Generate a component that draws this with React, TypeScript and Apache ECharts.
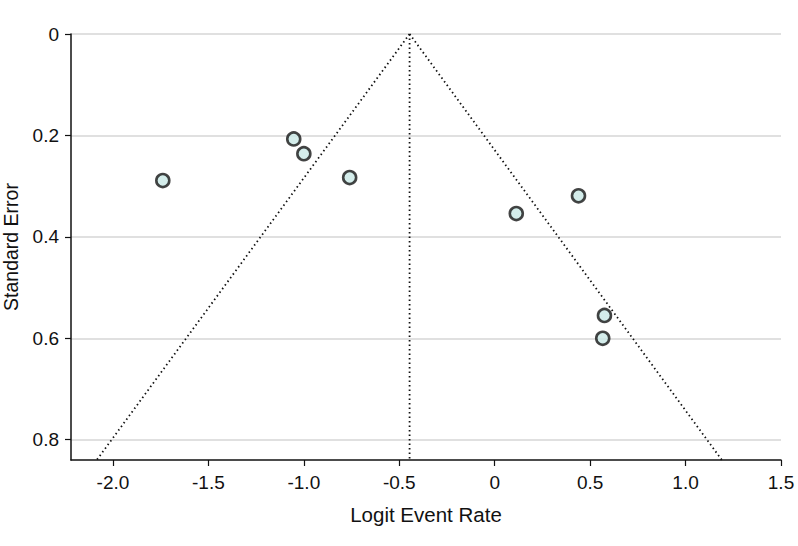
import React, { useEffect, useRef } from "react";
import * as echarts from "echarts";

// Study points: [logit event rate, standard error]
const logitRates = [-1.739, -1.053, -1.0, -0.76, 0.113, 0.439, 0.575, 0.566];
const standardErrors = [0.289, 0.207, 0.236, 0.283, 0.354, 0.319, 0.555, 0.6];

// Pooled estimate and funnel boundaries
const funnelLeft = [[-0.446, 0], [-2.085, 0.84]];
const funnelRight = [[-0.446, 0], [1.19, 0.84]];
const pooledLine = [[-0.446, 0], [-0.446, 0.84]];

const xTicks = [-2.0, -1.5, -1.0, -0.5, 0, 0.5, 1.0, 1.5];
const yTicks = [0, 0.2, 0.4, 0.6, 0.8];

const fmt = (v: number) => (Math.abs(v) < 1e-9 ? "0" : v.toFixed(1));

export default function App() {
  const ref = useRef<HTMLDivElement>(null);
  useEffect(() => {
    document.body.style.margin = "0";
    if (!ref.current) return;
    const chart = echarts.init(ref.current, undefined, { renderer: "svg" });
    const font = "'Liberation Sans', Arial, sans-serif";
    const dotted = { color: "#111", width: 1.8, type: [1.5, 3] as any };
    chart.setOption({
      animation: false,
      backgroundColor: "#fff",
      grid: { left: 71, top: 34, right: 17, bottom: 86, containLabel: false, outerBoundsMode: "none" },
      xAxis: {
        type: "value",
        min: -2.22,
        max: 1.5,
        name: "Logit Event Rate",
        nameLocation: "middle",
        nameGap: 44,
        nameTextStyle: { fontFamily: font, fontSize: 20.5, color: "#111" },
        axisLine: { show: true, onZero: false, lineStyle: { color: "#111", width: 1.5 } },
        axisTick: { show: true, length: 6, lineStyle: { color: "#111", width: 1.2 }, customValues: xTicks },
        axisLabel: {
          customValues: xTicks,
          formatter: (v: number) => fmt(v),
          fontFamily: font,
          fontSize: 19,
          color: "#111",
          margin: 13,
        },
        splitLine: { show: false },
      },
      yAxis: {
        type: "value",
        inverse: true,
        min: 0,
        max: 0.84,
        name: "Standard Error",
        nameLocation: "middle",
        nameGap: 50,
        nameTextStyle: { fontFamily: font, fontSize: 19.5, color: "#111" },
        axisLine: { show: true, onZero: false, lineStyle: { color: "#111", width: 1.5 } },
        axisTick: { show: true, length: 6, lineStyle: { color: "#111", width: 1.2 }, customValues: yTicks },
        axisLabel: {
          customValues: yTicks,
          formatter: (v: number) => fmt(v),
          fontFamily: font,
          fontSize: 19,
          color: "#111",
          margin: 12,
        },
        splitLine: { show: true, lineStyle: { color: "#d6d6d6", width: 1.5 } },
      },
      series: [
        { type: "line", data: funnelLeft, symbol: "none", lineStyle: dotted, silent: true, z: 1 },
        { type: "line", data: funnelRight, symbol: "none", lineStyle: dotted, silent: true, z: 1 },
        { type: "line", data: pooledLine, symbol: "none", lineStyle: dotted, silent: true, z: 1 },
        {
          type: "scatter",
          data: logitRates.map((x, i) => [x, standardErrors[i]]),
          symbol: "circle",
          symbolSize: 13,
          itemStyle: { color: "#c9e9e6", borderColor: "#151515", borderWidth: 2.6 },
          z: 3,
        },
      ],
    });
    return () => chart.dispose();
  }, []);
  return <div ref={ref} style={{ width: 798, height: 546 }} />;
}
